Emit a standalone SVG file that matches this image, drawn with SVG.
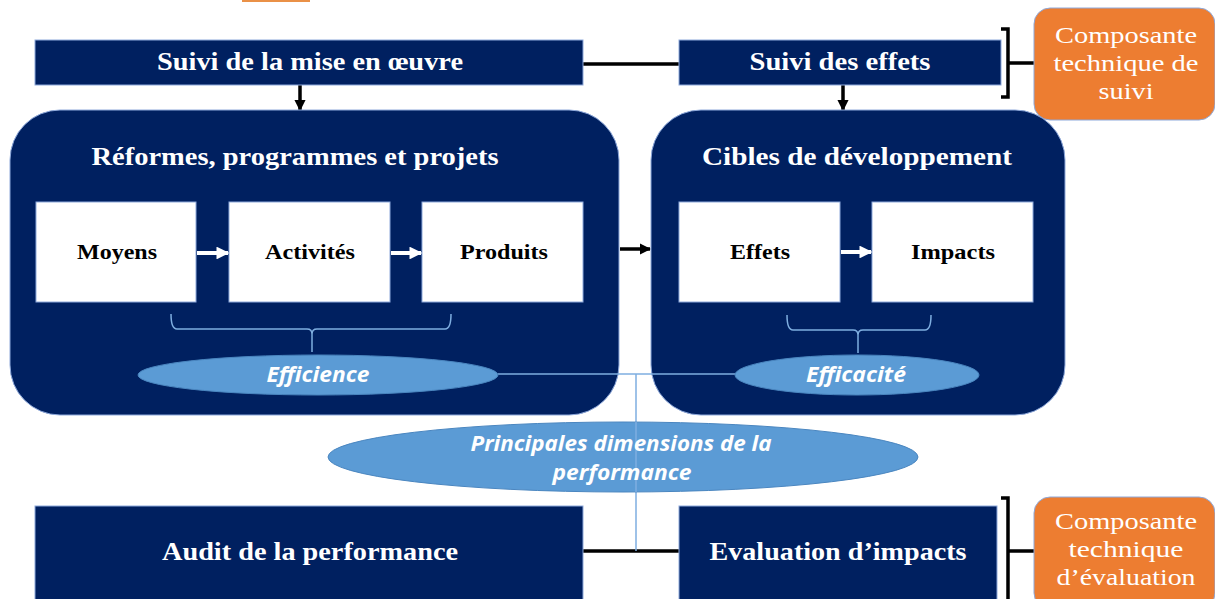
<svg xmlns="http://www.w3.org/2000/svg" width="1215" height="599" viewBox="0 0 1215 599">
<style>
.nv{fill:#002060;stroke:#8EA9DB;stroke-width:1}
.wb{fill:#ffffff;stroke:#8EA9DB;stroke-width:1}
.og{fill:#ED7D31;stroke:#8EA9DB;stroke-width:1}
.el{fill:#5B9BD5;stroke:#4A86C0;stroke-width:1}
.ht{font-family:"Liberation Serif",serif;font-weight:bold;fill:#ffffff;text-anchor:middle;font-size:25px}
.bt{font-family:"Liberation Serif",serif;font-weight:bold;fill:#000000;text-anchor:middle;font-size:21px}
.ot{font-family:"Liberation Serif",serif;fill:#ffffff;text-anchor:middle;font-size:24px}
.et{font-family:"Open Sans","Liberation Sans",sans-serif;font-weight:bold;font-style:italic;fill:#ffffff;text-anchor:middle;font-size:21px}
.bl{stroke:#000000;stroke-width:3.5;fill:none}
.lb{stroke:#7EAEE0;stroke-width:1.5;fill:none}
</style>
<defs>
<marker id="ab" viewBox="0 0 10 10" refX="9" refY="5" markerWidth="3.2" markerHeight="3.2" orient="auto" markerUnits="strokeWidth"><path d="M0,0 L10,5 L0,10 z" fill="#000"/></marker>
<marker id="aw" viewBox="0 0 10 10" refX="9" refY="5" markerWidth="3.2" markerHeight="3.2" orient="auto" markerUnits="strokeWidth"><path d="M0,0 L10,5 L0,10 z" fill="#fff"/></marker>
</defs>
<rect width="1215" height="599" fill="#ffffff"/>
<line x1="242" y1="1" x2="310" y2="1" stroke="#E36C0A" stroke-width="1.5"/>

<g id="connectors">
<line class="bl" x1="583" y1="64" x2="679" y2="64"/>
<line class="bl" x1="300" y1="85" x2="300" y2="110" marker-end="url(#ab)"/>
<line class="bl" x1="843" y1="85" x2="843" y2="110" marker-end="url(#ab)"/>
<line class="bl" x1="620" y1="249" x2="650" y2="249" marker-end="url(#ab)"/>
<line class="bl" x1="583" y1="551" x2="679" y2="551"/>
<path class="bl" d="M1001,29 H1008 V97 H1001 M1008,63 H1034" stroke-width="3"/>
<path class="bl" d="M1001,498 H1008 V599 M1008,551 H1034" stroke-width="3"/>
</g>

<g id="suivi-mise">
<rect class="nv" x="35" y="40" width="548" height="45"/>
<text class="ht" x="310" y="70" textLength="306" lengthAdjust="spacingAndGlyphs">Suivi de la mise en œuvre</text>
</g>
<g id="suivi-effets">
<rect class="nv" x="679" y="40" width="322" height="45"/>
<text class="ht" x="840" y="70" textLength="181" lengthAdjust="spacingAndGlyphs">Suivi des effets</text>
</g>
<g id="composante-suivi">
<rect class="og" x="1034" y="8" width="181" height="112" rx="16"/>
<text class="ot" x="1126" y="43" textLength="142" lengthAdjust="spacingAndGlyphs">Composante</text>
<text class="ot" x="1126" y="71" textLength="145" lengthAdjust="spacingAndGlyphs">technique de</text>
<text class="ot" x="1126" y="99" textLength="55" lengthAdjust="spacingAndGlyphs">suivi</text>
</g>

<g id="reformes">
<rect class="nv" x="10" y="110" width="609" height="305" rx="50"/>
<text class="ht" x="295" y="165" textLength="407" lengthAdjust="spacingAndGlyphs">Réformes, programmes et projets</text>
</g>
<g id="cibles">
<rect class="nv" x="651" y="110" width="414" height="305" rx="50"/>
<text class="ht" x="857" y="165" textLength="310" lengthAdjust="spacingAndGlyphs">Cibles de développement</text>
</g>

<g id="moyens"><rect class="wb" x="36" y="202" width="160" height="100"/><text class="bt" x="117" y="259" textLength="80" lengthAdjust="spacingAndGlyphs">Moyens</text></g>
<g id="activites"><rect class="wb" x="229" y="202" width="161" height="100"/><text class="bt" x="310" y="259" textLength="90" lengthAdjust="spacingAndGlyphs">Activités</text></g>
<g id="produits"><rect class="wb" x="422" y="202" width="161" height="100"/><text class="bt" x="504" y="259" textLength="88" lengthAdjust="spacingAndGlyphs">Produits</text></g>
<g id="effets"><rect class="wb" x="679" y="202" width="161" height="100"/><text class="bt" x="760" y="259" textLength="60" lengthAdjust="spacingAndGlyphs">Effets</text></g>
<g id="impacts"><rect class="wb" x="872" y="202" width="161" height="100"/><text class="bt" x="953" y="259" textLength="84" lengthAdjust="spacingAndGlyphs">Impacts</text></g>

<g id="inner-connectors">
<line stroke="#fff" stroke-width="4" x1="197" y1="253" x2="228" y2="253" marker-end="url(#aw)"/>
<line stroke="#fff" stroke-width="4" x1="391" y1="253" x2="421" y2="253" marker-end="url(#aw)"/>
<line stroke="#fff" stroke-width="4" x1="841" y1="252" x2="871" y2="252" marker-end="url(#aw)"/>
<path class="lb" d="M171,314 Q171,329 177,329 H307 Q312,329 312,334 Q312,329 317,329 H445 Q451,329 451,314 M312,334 V352"/>
<path class="lb" d="M787,315 Q787,330 793,330 H853 Q858,330 858,335 Q858,330 863,330 H925 Q931,330 931,315 M858,335 V353"/>
<line class="lb" x1="498" y1="374" x2="736" y2="374"/>
<line class="lb" x1="636" y1="374" x2="636" y2="551"/>
</g>

<g id="efficience">
<ellipse class="el" cx="318" cy="375" rx="180" ry="20"/>
<text class="et" x="318" y="382" textLength="103" lengthAdjust="spacingAndGlyphs">Efficience</text>
</g>
<g id="efficacite">
<ellipse class="el" cx="857" cy="375" rx="122" ry="20"/>
<text class="et" x="856" y="382" textLength="100" lengthAdjust="spacingAndGlyphs">Efficacité</text>
</g>
<g id="dimensions">
<ellipse class="el" cx="623" cy="457" rx="295" ry="35"/>
<line class="lb" x1="636" y1="422" x2="636" y2="492"/>
<text class="et" x="621" y="451" textLength="301" lengthAdjust="spacingAndGlyphs">Principales dimensions de la</text>
<text class="et" x="622" y="480" textLength="139" lengthAdjust="spacingAndGlyphs">performance</text>
</g>

<g id="audit">
<rect class="nv" x="35" y="506" width="548" height="100"/>
<text class="ht" x="310" y="560" textLength="296" lengthAdjust="spacingAndGlyphs">Audit de la performance</text>
</g>
<g id="evaluation">
<rect class="nv" x="679" y="506" width="318" height="100"/>
<text class="ht" x="838" y="560" textLength="257" lengthAdjust="spacingAndGlyphs">Evaluation d’impacts</text>
</g>
<g id="composante-evaluation">
<rect class="og" x="1034" y="497" width="181" height="112" rx="16"/>
<text class="ot" x="1126" y="529" textLength="142" lengthAdjust="spacingAndGlyphs">Composante</text>
<text class="ot" x="1126" y="557" textLength="115" lengthAdjust="spacingAndGlyphs">technique</text>
<text class="ot" x="1126" y="585" textLength="139" lengthAdjust="spacingAndGlyphs">d’évaluation</text>
</g>
</svg>
